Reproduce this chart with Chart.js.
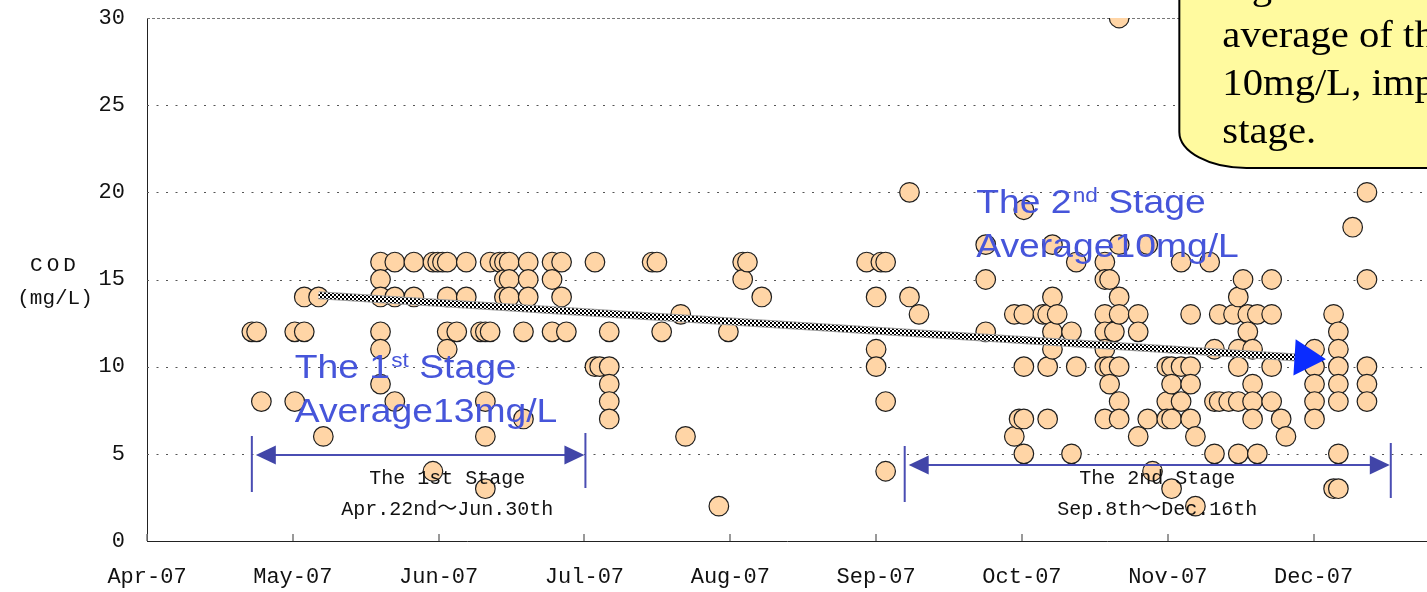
<!DOCTYPE html>
<html>
<head>
<meta charset="utf-8">
<title>COD</title>
<script src="https://cdn.jsdelivr.net/npm/chart.js@4.4.0/dist/chart.umd.min.js"></script>
<style>
  html, body { margin: 0; padding: 0; background: #fff; overflow: hidden; }
  #wrap { position: relative; width: 1427px; height: 592px; }
</style>
</head>
<body>
<div id="wrap"><canvas id="cod-chart"></canvas></div>
<script>
// sampling days and the COD readings taken on each of them (mg/L)
const sampleDates = [
  '2007-04-23', '2007-04-24', '2007-04-25', '2007-05-02', '2007-05-04', '2007-05-07', '2007-05-08',
  '2007-05-20', '2007-05-23', '2007-05-27', '2007-05-31', '2007-06-01', '2007-06-02', '2007-06-03',
  '2007-06-05', '2007-06-07', '2007-06-10', '2007-06-11', '2007-06-12', '2007-06-14', '2007-06-15',
  '2007-06-16', '2007-06-19', '2007-06-20', '2007-06-25', '2007-06-27', '2007-06-28',
  '2007-07-04', '2007-07-05', '2007-07-07', '2007-07-16', '2007-07-17', '2007-07-18', '2007-07-22',
  '2007-07-23', '2007-07-30', '2007-08-01', '2007-08-04', '2007-08-05', '2007-08-08',
  '2007-08-30', '2007-09-01', '2007-09-02', '2007-09-03', '2007-09-08', '2007-09-10', '2007-09-24',
  '2007-09-30', '2007-10-01', '2007-10-02', '2007-10-06', '2007-10-07', '2007-10-08', '2007-10-09',
  '2007-10-12', '2007-10-13', '2007-10-19', '2007-10-20', '2007-10-21', '2007-10-22', '2007-10-26',
  '2007-10-28', '2007-10-29', '2007-11-01', '2007-11-02', '2007-11-04', '2007-11-06', '2007-11-07',
  '2007-11-10', '2007-11-11', '2007-11-12', '2007-11-14', '2007-11-15', '2007-11-16', '2007-11-17',
  '2007-11-18', '2007-11-19', '2007-11-20', '2007-11-23', '2007-11-25', '2007-11-26',
  '2007-12-02', '2007-12-06', '2007-12-07', '2007-12-10', '2007-12-13'
];

const codValues = [
  [12], [12], [8], [12, 8], [14, 12], [14], [6],
  [16, 15, 14, 12, 11, 9], [16, 14, 8], [16, 14], [16, 4], [16], [16], [16, 14, 12, 11],
  [12], [16, 14], [12], [12, 8, 6, 3], [16, 12], [16], [16, 15, 14],
  [16, 15, 14], [12, 7], [16, 15, 14], [16, 15, 12], [16, 14], [12],
  [16, 10], [10], [12, 10, 9, 8, 7], [16], [16], [12], [13],
  [6], [2], [12], [16, 15], [16], [14],
  [16], [14, 11, 10], [16], [16, 8, 4], [20, 14], [13], [17, 15, 12],
  [13, 6], [7], [19, 13, 10, 7, 5], [13], [13, 10, 7], [17, 14, 12, 11], [13],
  [12, 5], [16, 10], [16, 15, 13, 12, 11, 10, 7], [15, 10, 9], [12], [30, 17, 14, 13, 10, 8, 7], [13, 12, 6],
  [17, 7], [4], [10, 8, 7], [10, 9, 7, 3], [16, 10, 8], [13, 10, 9, 7], [6, 2],
  [16], [11, 8, 5], [13, 8], [8], [13], [14, 11, 10, 8, 5], [15],
  [13, 12], [11, 9, 8, 7], [13, 5], [15, 13, 10, 8], [7], [6],
  [11, 10, 9, 8, 7], [13, 3], [12, 11, 10, 9, 8, 5, 3], [18], [20, 15, 10, 9, 8]
];

// trend arrow drawn over the scatter
const trendDates = ['2007-05-07', '2007-11-30'];
const trendValues = [14.1, 10.5];

// axis ticks
const monthLabels = ['Apr-07', 'May-07', 'Jun-07', 'Jul-07', 'Aug-07', 'Sep-07', 'Oct-07', 'Nov-07', 'Dec-07'];
const yTicks = [0, 5, 10, 15, 20, 25, 30];

const START = Date.UTC(2007, 3, 1);
const TICK_STEP = 30.6;   // axis major unit in days
const X_MAX = 268.6;      // right edge of the visible plot

function dayOf(s) {
  const [yy, mm, dd] = s.split('-').map(Number);
  return (Date.UTC(yy, mm - 1, dd) - START) / 86400000;
}

// annotations (the stage arrows and notes on the slide)
const stageRanges = [
  { from: '2007-04-23', to: '2007-07-02', arrowAt: 4.93, labelAt: '2007-06-03', lines: ['The 1st Stage', 'Apr.22nd〜Jun.30th'] },
  { from: '2007-09-07', to: '2007-12-18', arrowAt: 4.36, labelAt: '2007-10-30', lines: ['The 2nd Stage', 'Sep.8th〜Dec.16th'] }
];
const stageLineValues = [3.56, 1.78];

const stageNotes = [
  { at: '2007-05-02', value: 9.35, parts: ['The 1', 'st', ' Stage'], avg: 'Average13mg/L' },
  { at: '2007-09-22', value: 18.82, parts: ['The 2', 'nd', ' Stage'], avg: 'Average10mg/L' }
];

const callout = {
  at: '2007-11-03',
  bottom: 21.4,
  lines: ['Again the COD', 'average of the 2nd stage is', '10mg/L, improved from the 1st', 'stage.']
};

const MONO = '"Liberation Mono", "Noto Sans CJK JP", monospace';
const BLUE = '#4655da';

function checkerPattern() {
  const c = document.createElement('canvas');
  c.width = 4; c.height = 4;
  const g = c.getContext('2d');
  g.fillStyle = '#fff';
  g.fillRect(0, 0, 4, 4);
  g.fillStyle = '#000';
  g.fillRect(0, 0, 2, 2);
  g.fillRect(2, 2, 2, 2);
  return g.createPattern(c, 'repeat');
}

function drawSpaced(ctx, text, cx, cy, spacing) {
  const widths = [...text].map(ch => ctx.measureText(ch).width);
  const total = widths.reduce((a, b) => a + b, 0) + spacing * (widths.length - 1);
  let xPos = cx - total / 2;
  ctx.textAlign = 'left';
  [...text].forEach((ch, i) => {
    ctx.fillText(ch, xPos, cy);
    xPos += widths[i] + spacing;
  });
}

const overlay = {
  id: 'overlay',
  beforeDatasetsDraw(chart) {
    const { ctx, chartArea: a, scales: { x, y } } = chart;
    ctx.save();
    // dotted gridlines
    yTicks.forEach(v => {
      if (v === 0) return;
      const py = Math.round(y.getPixelForValue(v)) + 0.5;
      ctx.beginPath();
      ctx.setLineDash(v === 30 ? [3, 2] : [2, 7.5]);
      ctx.strokeStyle = v === 30 ? '#777' : '#555';
      ctx.lineWidth = 1;
      ctx.moveTo(a.left, py);
      ctx.lineTo(a.right, py);
      ctx.stroke();
    });
    // inside tick marks on the date axis
    ctx.setLineDash([]);
    ctx.strokeStyle = '#777';
    ctx.lineWidth = 1.5;
    x.ticks.forEach(t => {
      const px = Math.round(x.getPixelForValue(t.value));
      ctx.beginPath();
      ctx.moveTo(px, a.bottom);
      ctx.lineTo(px, a.bottom - 7);
      ctx.stroke();
    });
    ctx.restore();
  },
  afterDatasetsDraw(chart) {
    const { ctx, scales: { x, y } } = chart;
    ctx.save();

    // stage range arrows
    stageRanges.forEach(st => {
      const x1 = x.getPixelForValue(dayOf(st.from));
      const x2 = x.getPixelForValue(dayOf(st.to));
      const ay = y.getPixelForValue(st.arrowAt);
      ctx.strokeStyle = '#4a4db3';
      ctx.fillStyle = '#4145a8';
      ctx.lineWidth = 2;
      ctx.beginPath();
      ctx.moveTo(x1, ay - 19); ctx.lineTo(x1, ay + 37);
      ctx.moveTo(x2, ay - 22); ctx.lineTo(x2, ay + 33);
      ctx.moveTo(x1 + 6, ay); ctx.lineTo(x2 - 6, ay);
      ctx.stroke();
      ctx.beginPath();
      ctx.moveTo(x1 + 4, ay); ctx.lineTo(x1 + 24, ay - 9.5); ctx.lineTo(x1 + 24, ay + 9.5);
      ctx.closePath(); ctx.fill();
      ctx.beginPath();
      ctx.moveTo(x2 - 1, ay); ctx.lineTo(x2 - 21, ay - 9.5); ctx.lineTo(x2 - 21, ay + 9.5);
      ctx.closePath(); ctx.fill();

      ctx.fillStyle = '#111';
      ctx.font = '20px ' + MONO;
      ctx.textAlign = 'center';
      ctx.textBaseline = 'middle';
      const cx = x.getPixelForValue(dayOf(st.labelAt));
      st.lines.forEach((line, i) => ctx.fillText(line, cx, y.getPixelForValue(stageLineValues[i])));
    });

    // blue stage notes
    ctx.textBaseline = 'alphabetic';
    ctx.textAlign = 'left';
    stageNotes.forEach(n => {
      const px = x.getPixelForValue(dayOf(n.at));
      const py = y.getPixelForValue(n.value);
      ctx.save();
      ctx.translate(px, py);
      ctx.scale(1.13, 1);
      ctx.fillStyle = BLUE;
      ctx.font = '33px "Liberation Sans", Arial, sans-serif';
      ctx.fillText(n.parts[0], 0, 0);
      let w = ctx.measureText(n.parts[0]).width;
      ctx.font = '20px "Liberation Sans", Arial, sans-serif';
      ctx.fillText(n.parts[1], w + 1, -11);
      w += ctx.measureText(n.parts[1]).width + 1;
      ctx.font = '33px "Liberation Sans", Arial, sans-serif';
      ctx.fillText(n.parts[2], w, 0);
      ctx.fillText(n.avg, 0, 44);
      ctx.restore();
    });

    // yellow callout (cut by the right and top edges)
    const bx = x.getPixelForValue(dayOf(callout.at)) + 3;
    const by = y.getPixelForValue(callout.bottom);
    const rw = 67, rh = 36;
    ctx.beginPath();
    ctx.moveTo(bx, -10);
    ctx.lineTo(bx, by - rh);
    ctx.bezierCurveTo(bx, by - rh * 0.45, bx + rw * 0.45, by, bx + rw, by);
    ctx.lineTo(chart.width + 20, by);
    ctx.lineTo(chart.width + 20, -10);
    ctx.closePath();
    ctx.fillStyle = '#fffa9f';
    ctx.fill();
    ctx.strokeStyle = '#000';
    ctx.lineWidth = 2;
    ctx.stroke();

    ctx.save();
    ctx.translate(bx + 43, 0);
    ctx.scale(1.1, 1);
    ctx.fillStyle = '#000';
    ctx.font = '37px "Liberation Serif", "Times New Roman", serif';
    callout.lines.forEach((line, i) => ctx.fillText(line, 0, -1 + i * 48));
    ctx.restore();

    ctx.restore();
  },
  afterDraw(chart) {
    const { ctx } = chart;
    ctx.save();
    ctx.fillStyle = '#111';
    ctx.font = '21px ' + MONO;
    ctx.textBaseline = 'middle';
    drawSpaced(ctx, 'COD', 53, 265, 4);
    drawSpaced(ctx, '(mg/L)', 55, 298, 0);
    ctx.restore();
  }
};

const points = [];
sampleDates.forEach((s, i) => {
  codValues[i].forEach(v => points.push({ x: dayOf(s), y: v }));
});
const trendPoints = trendDates.map((s, i) => ({ x: dayOf(s), y: trendValues[i] }));

const ctx = document.getElementById('cod-chart').getContext('2d');
new Chart(ctx, {
  type: 'scatter',
  data: {
    datasets: [
      {
        label: 'direction',
        data: [trendPoints[1]],
        pointStyle: 'triangle',
        pointRotation: 93.6,
        pointRadius: 21,
        pointHoverRadius: 21,
        backgroundColor: '#0a2cff',
        borderWidth: 0,
        order: 0
      },
      {
        label: 'trend',
        type: 'line',
        data: trendPoints,
        borderColor: checkerPattern(),
        borderWidth: 6,
        pointRadius: 0,
        order: 1
      },
      {
        label: 'trend edge',
        type: 'line',
        data: trendPoints,
        borderColor: '#9c9c9c',
        borderWidth: 8,
        pointRadius: 0,
        order: 2
      },
      {
        label: 'COD',
        data: points,
        pointRadius: 9.8,
        pointHoverRadius: 9.8,
        backgroundColor: '#ffd5a6',
        borderColor: '#1e1e1e',
        borderWidth: 1.2,
        order: 3
      }
    ]
  },
  options: {
    responsive: true,
    maintainAspectRatio: false,
    animation: false,
    layout: { autoPadding: false, padding: { top: 18, right: 0, bottom: 0, left: 0 } },
    plugins: {
      legend: { display: false },
      tooltip: { enabled: false }
    },
    scales: {
      x: {
        type: 'linear',
        min: 0,
        max: X_MAX,
        afterBuildTicks: scale => {
          scale.ticks = monthLabels.map((_, i) => ({ value: i * TICK_STEP }));
        },
        afterFit: scale => {
          scale.height = 51;
          scale.paddingLeft = 0;
          scale.paddingRight = 0;
        },
        grid: { display: false, drawTicks: false },
        border: { display: true, color: '#222', width: 1 },
        ticks: {
          autoSkip: false,
          maxRotation: 0,
          padding: 23,
          color: '#111',
          font: { family: MONO, size: 22 },
          callback: (value, index) => monthLabels[index]
        }
      },
      y: {
        min: 0,
        max: 30,
        afterBuildTicks: scale => {
          scale.ticks = yTicks.map(v => ({ value: v }));
        },
        afterFit: scale => {
          scale.width = 147;
          scale.paddingTop = 0;
          scale.paddingBottom = 0;
        },
        grid: { display: false, drawTicks: false },
        border: { display: true, color: '#222', width: 1 },
        ticks: {
          padding: 22,
          color: '#111',
          font: { family: MONO, size: 22 }
        }
      }
    }
  },
  plugins: [overlay]
});
</script>
</body>
</html>
